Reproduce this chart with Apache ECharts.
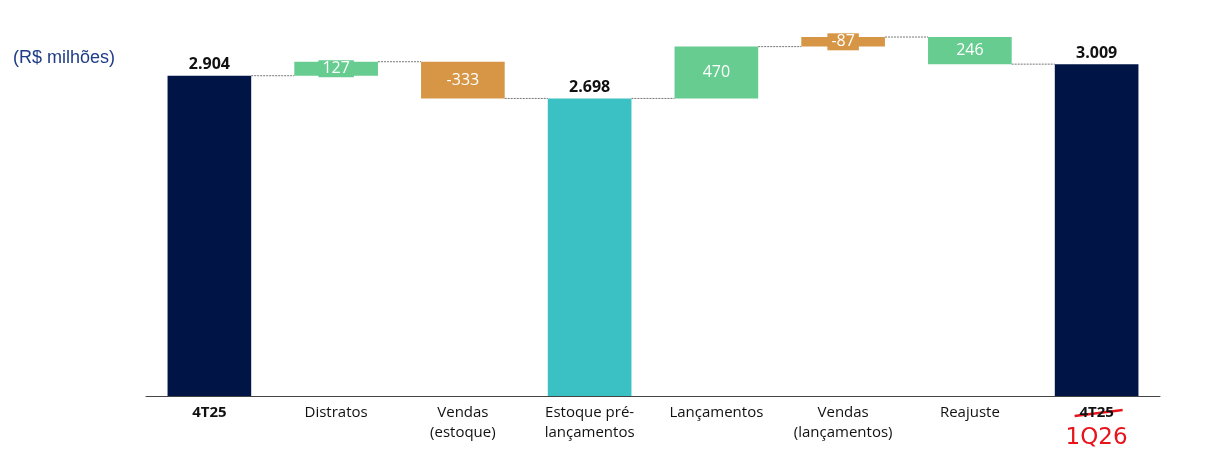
<!DOCTYPE html>
<html>
<head>
<meta charset="utf-8">
<script src="https://cdn.jsdelivr.net/npm/echarts@6/dist/echarts.min.js"></script>
<style>
  html, body { margin: 0; padding: 0; background: #fff; }
  #chart { width: 1211px; height: 450px; }
</style>
</head>
<body>
<div id="chart"></div>
<script>
// Categories and values
const categories = ['4T25', 'Distratos', 'Vendas\n(estoque)', 'Estoque pré-\nlançamentos', 'Lançamentos', 'Vendas\n(lançamentos)', 'Reajuste', '4T25'];
const shownValues = [2904, 127, -333, 2698, 470, -87, 246, 3009];
// where each bar starts and ends on the value axis, as drawn on the slide
const barStart = [0, 2904, 3031, 0, 2698, 3168, 3255, 0];
const barEnd = [2904, 3031, 2698, 2698, 3168, 3255, 3009, 3009];
const kinds = ['total', 'up', 'down', 'sub', 'up', 'down', 'up', 'total'];

const colors = { total: '#001446', sub: '#3BC1C3', up: '#66CC8F', down: '#D69646' };
const font = 'Open Sans';

function fmt(v) {
    return v.toLocaleString('pt-BR');
}

const chart = echarts.init(document.getElementById('chart'));

const baseData = barStart.map((s, i) => Math.min(s, barEnd[i]));
const barData = barStart.map((s, i) => ({
    value: Math.abs(barEnd[i] - s),
    itemStyle: { color: colors[kinds[i]] },
    label: kinds[i] === 'total' || kinds[i] === 'sub'
        ? { show: true, position: 'top', color: '#111', fontWeight: 'bold', fontSize: 16, distance: 3,
            fontFamily: font, formatter: () => fmt(shownValues[i]) }
        : { show: true, position: 'inside', color: '#fff', fontSize: 16, fontFamily: font,
            backgroundColor: colors[kinds[i]], padding: [1, 4, 0, 4],
            formatter: () => fmt(shownValues[i]) }
}));

const title = {
    type: 'text', left: 13, top: 49,
    style: { text: '(R$ milhões)', fill: '#1F3C88', font: '18px "Liberation Sans", Arial, sans-serif' }
};

const option = {
    animation: false,
    grid: { left: 146, right: 51, top: 10, bottom: 54, outerBoundsMode: 'none', containLabel: false },
    graphic: [title],
    xAxis: {
        type: 'category',
        data: categories,
        axisLine: { lineStyle: { color: '#444', width: 1 } },
        axisTick: { show: false },
        axisLabel: {
            interval: 0, margin: 7, color: '#111', fontSize: 15, fontFamily: font, lineHeight: 20,
            formatter: (v, i) => {
                if (i === 0) return '{b|' + v + '}';
                if (i === categories.length - 1) return '{s|' + v + '}\n{r|1Q26}';
                return v;
            },
            rich: {
                b: { fontWeight: 'bold', fontSize: 15, fontFamily: font, color: '#111' },
                s: { fontWeight: 'bold', fontSize: 15, fontFamily: font, color: '#111', lineHeight: 20 },
                r: { fontSize: 23, color: '#E8141B', fontFamily: 'DejaVu Sans', lineHeight: 30 }
            }
        }
    },
    yAxis: { type: 'value', min: 0, max: 3500, show: false, splitLine: { show: false } },
    series: [
        {
            type: 'bar', stack: 'w', barWidth: '66%', silent: true,
            itemStyle: { color: 'transparent' },
            data: baseData
        },
        {
            type: 'bar', stack: 'w', barWidth: '66%',
            data: barData
        },
        {
            // dotted connectors between bars
            type: 'custom', z: 1,
            data: barEnd.slice(0, -1).map((v, i) => [i, v]),
            renderItem: (params, api) => {
                const i = api.value(0);
                const p1 = api.coord([i, api.value(1)]);
                const p2 = api.coord([i + 1, api.value(1)]);
                const half = api.size([1, 0])[0] * 0.33;
                return {
                    type: 'line',
                    shape: { x1: p1[0] + half, y1: p1[1], x2: p2[0] - half, y2: p2[1] },
                    style: { stroke: '#777', lineWidth: 1, lineDash: [2, 1] }
                };
            }
        }
    ]
};

chart.setOption(option);

// red strike-through over the last "4T25" label
const last = categories.length - 1;
const pt = chart.convertToPixel({ xAxisIndex: 0 }, last);
const axisY = chart.convertToPixel({ yAxisIndex: 0 }, 0);
chart.setOption({
    graphic: [
        title,
        { type: 'line', shape: { x1: pt - 22, y1: axisY + 20, x2: pt + 26, y2: axisY + 14 },
          style: { stroke: '#E8141B', lineWidth: 2.5 } }
    ]
});
</script>
</body>
</html>
